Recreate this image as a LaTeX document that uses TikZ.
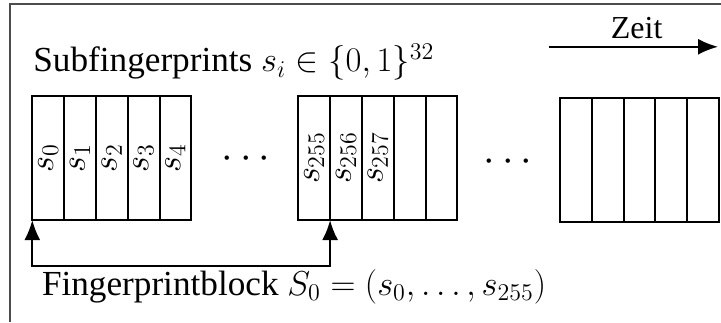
\documentclass[tikz,border=0pt]{standalone}
\usepackage{fontspec}
\setmainfont{Liberation Serif}
\usepackage{graphicx}
\usetikzlibrary{arrows.meta, positioning}
\tikzset{
  cell/.style ={rectangle, draw, line width=1pt, minimum width=15.9pt,
                minimum height=62.2pt, inner sep=0pt, outer sep=0pt,
                font=\fontsize{17.6}{21}\selectfont},
  txt/.style  ={inner sep=0pt, anchor=base west, font=\fontsize{17.6}{21}\selectfont},
  dts/.style  ={inner sep=0pt, font=\fontsize{22}{26}\selectfont},
  arr/.style  ={-{Latex[length=10pt, width=8pt]}, line width=1pt},
  frame/.style={draw=black!70, line width=1pt}
}

\begin{document}
\begin{tikzpicture}[x=1pt, y=1pt]
    \useasboundingbox (0,0) rectangle (360.5,161);
    \draw[frame] (4.75,0) -- (4.75,158.75) -- (360.5,158.75);

    \node[txt] (title) at (16.5,125) {Subfingerprints $s_i \in \{0,1\}^{32}$};

    % time axis
    \coordinate (t0) at (274.3,137.6);
    \coordinate (t1) at (359,137.6);
    \draw[arr] (t0) -- (t1);
    \node[txt, anchor=base, font=\fontsize{16}{19}\selectfont] (zeit) at (318.3,141.8) {Zeit};

    % first block
    \foreach \i/\t in {0/s_0, 1/s_1, 2/s_2, 3/s_3, 4/s_4}
      \node[cell] (a\i) at (24.1+15.9*\i, 82.07) {\rotatebox{90}{$\t$}};
    \node[dts] (dotsa) at (123,81.5) {$\cdots$};

    % second block
    \foreach \i/\t in {0/s_{255}, 1/s_{256}, 2/s_{257}, 3/, 4/}
      \node[cell] (b\i) at (157.1+15.9*\i, 82.07) {\rotatebox{90}{$\t$}};
    \node[dts] (dotsb) at (254,80) {$\cdots$};

    % third block
    \foreach \i in {0,...,4}
      \node[cell] (c\i) at (287.95+15.9*\i, 81) {};

    % fingerprint block
    \coordinate (bl) at (16.15,28);
    \draw[{Latex[length=10pt, width=8pt]}-{Latex[length=10pt, width=8pt]}, line width=1pt]
      (a0.south west) -- (a0.south west |- bl) -| (b0.south east);
    \node[txt] (block) at (20.8,13.5) {Fingerprintblock $S_0 = (s_0, \ldots, s_{255})$};
\end{tikzpicture}
\end{document}
